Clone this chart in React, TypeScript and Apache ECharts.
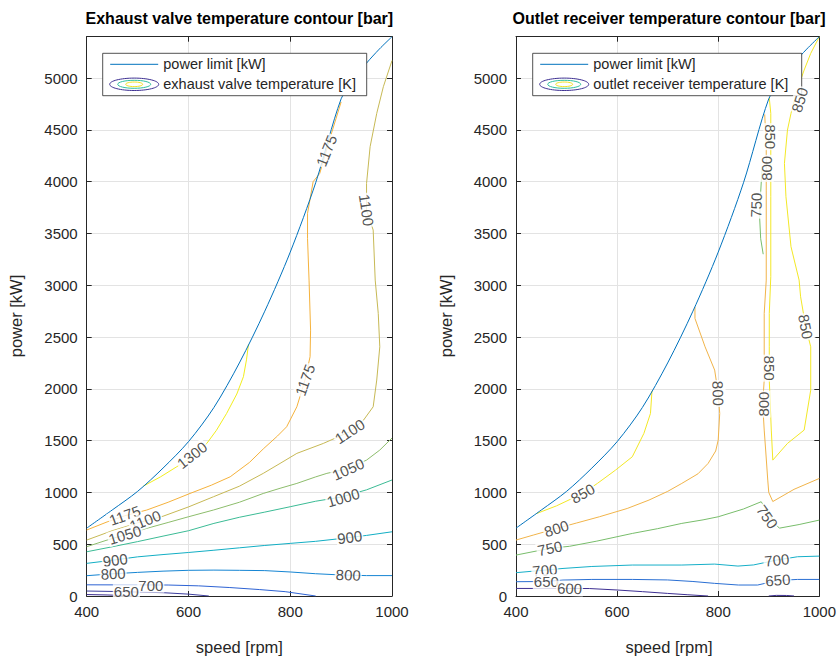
import React, { useEffect, useRef } from 'react';
import * as echarts from 'echarts';

const FONT = "'Liberation Sans', Arial, Helvetica, sans-serif";
const INK = '#262626';

// shared axes
const speedRange = [400, 1000];
const speedStep = 200;
const powerRange = [0, 5400];
const powerStep = 500;

// power limit curve [speed rpm, power kW]
const powerLimit = [[400, 655], [450, 830], [500, 1010], [550, 1235], [600, 1490], [650, 1820], [700, 2250], [750, 2750], [800, 3320], [850, 3990], [900, 4800], [925, 4985], [950, 5145], [975, 5280], [1000, 5400]];

// ---------- Exhaust valve temperature contours ----------
const ev600 = [[400, 14], [440, 10], [475, 4], [492, 0]];
const ev650 = [[400, 48], [450, 44], [500, 38], [550, 32], [600, 18], [640, 0]];
const ev700 = [[400, 108], [500, 107], [560, 106], [620, 98], [680, 82], [740, 62], [790, 42], [850, 0]];
const ev800 = [[400, 196], [450, 214], [500, 228], [550, 240], [600, 248], [650, 250], [700, 248], [750, 245], [800, 232], [850, 215], [900, 203], [950, 197], [1000, 197]];
const ev900 = [[400, 315], [450, 345], [500, 378], [550, 400], [600, 420], [650, 442], [700, 465], [750, 488], [800, 508], [850, 528], [900, 555], [950, 585], [1000, 620]];
const ev1000 = [[400, 427], [450, 475], [500, 525], [550, 578], [600, 630], [650, 701], [700, 760], [750, 810], [800, 862], [850, 915], [900, 955], [950, 1025], [1000, 1120]];
const ev1050 = [[400, 476], [440, 540], [475, 590], [518, 653], [560, 710], [600, 765], [649, 830], [700, 905], [747, 990], [780, 1040], [813, 1087], [850, 1150], [872, 1184], [914, 1230], [950, 1312], [976, 1409], [1000, 1525]];
const ev1100 = [[400, 540], [450, 630], [500, 705], [550, 770], [600, 860], [649, 958], [700, 1060], [747, 1184], [780, 1280], [813, 1377], [865, 1473], [917, 1586], [944, 1698], [963, 1827], [970, 2085], [976, 2406], [973, 2728], [967, 3050], [963, 3533], [950, 3726], [950, 3984], [957, 4338], [970, 4660], [983, 4917], [1000, 5170]];
const ev1175 = [[400, 637], [440, 715], [475, 775], [518, 830], [560, 905], [603, 990], [645, 1070], [682, 1151], [720, 1290], [747, 1420], [775, 1545], [793, 1634], [813, 1827], [829, 2085], [839, 2310], [840, 2567], [837, 3050], [834, 3450], [834, 3694], [845, 4000], [858, 4080], [880, 4450], [900, 4770]];
const ev1300 = [[511, 1060], [545, 1150], [577, 1248], [610, 1350], [636, 1473], [655, 1600], [675, 1763], [695, 1950], [708, 2117], [714, 2280], [718, 2430]];
// [speed, power, text, angle]
const evLabels = [
  [607, 1360, '1300', 38], [871, 4300, '1175', 68], [829, 2085, '1175', 70], [475, 778, '1175', 20],
  [950, 3726, '1100', -82], [917, 1590, '1100', 33], [515, 728, '1100', 22],
  [914, 1225, '1050', 24], [475, 590, '1050', 17], [904, 950, '1000', 16],
  [917, 568, '900', 7], [456, 347, '900', 7], [914, 203, '800', -2], [452, 216, '800', 3],
  [526, 104, '700', 0], [478, 42, '650', 0],
];

// ---------- Outlet receiver temperature contours ----------
const or600 = [[400, 73], [506, 73], [545, 72], [600, 58], [650, 42], [700, 25], [740, 12], [780, 0]];
const or600b = [[900, 0], [915, 6], [935, 5], [950, 0]];
const or650 = [[400, 138], [460, 140], [493, 154], [550, 160], [630, 160], [700, 155], [750, 140], [793, 122], [840, 106], [878, 106], [918, 150], [957, 160], [1000, 160]];
const or700 = [[400, 225], [457, 250], [493, 266], [550, 285], [630, 299], [728, 299], [793, 308], [839, 289], [870, 300], [916, 347], [957, 379], [1000, 385]];
const or750 = [[400, 395], [467, 460], [506, 480], [560, 530], [630, 604], [680, 650], [728, 701], [770, 735], [800, 765], [850, 840], [885, 910], [900, 800], [912, 700], [921, 655], [960, 690], [1000, 733]];
const or750b = [[887, 4150], [884, 3900], [882, 3650], [884, 3450], [889, 3300]];
const or800a = [[400, 540], [434, 588], [480, 652], [520, 705], [565, 765], [620, 845], [663, 926], [700, 1010], [728, 1087], [760, 1180], [780, 1280], [795, 1400], [800, 1505], [803, 1763], [800, 1956], [793, 2181], [774, 2406], [754, 2680], [754, 2790]];
const or800b = [[1000, 1135], [950, 1030], [908, 912], [900, 1000], [898, 1119], [894, 1400], [891, 1602], [888, 1859], [891, 2085], [891, 2728], [895, 3050], [895, 3919], [895, 4338], [892, 4650]];
const or850a = [[440, 795], [480, 870], [532, 990], [561, 1087], [597, 1216], [630, 1344], [653, 1570], [666, 1763], [669, 1980]];
const or850b = [[901, 4810], [904, 4660], [904, 4177], [904, 3855], [904, 3083], [901, 2728], [901, 2406], [901, 2085], [905, 1602], [908, 1312], [937, 1473], [970, 1602], [983, 1988], [983, 2406], [973, 2600], [963, 2889], [960, 3050], [944, 3372], [934, 3855], [931, 4177], [937, 4499], [944, 4660], [954, 4853], [970, 5078], [983, 5239], [1000, 5400]];
const orLabels = [
  [532, 990, '850', 29], [973, 2600, '850', -79], [961, 4790, '850', 73], [902, 2200, '850', -90], [904, 4435, '850', -90],
  [800, 1956, '800', -88], [889, 1853, '800', 90], [895, 4129, '800', 90], [480, 652, '800', 18],
  [875, 3774, '750', 88], [897, 765, '750', -55], [467, 460, '750', 12],
  [457, 250, '700', 5], [916, 347, '700', 6], [460, 140, '650', 0], [918, 154, '650', 4], [506, 73, '600', -2],
];

const LIMIT_COLOR = '#0072BD';

const evLines: [number[][], string][] = [
  [ev600, '#3a2b8e'], [ev650, '#3c3d9e'], [ev700, '#2d62d3'], [ev800, '#1585d3'], [ev900, '#12aec4'],
  [ev1000, '#3bbb95'], [ev1050, '#8dbd6c'], [ev1100, '#c7b955'], [ev1175, '#f5b23c'], [ev1300, '#f2ee1e'],
];
const orLines: [number[][], string][] = [
  [or600, '#3d2f92'], [or600b, '#3d2f92'], [or650, '#2a6fd3'], [or700, '#16afc8'], [or750, '#78bd6b'],
  [or750b, '#78bd6b'], [or800a, '#f1b44a'], [or800b, '#f1b44a'], [or850a, '#f3e826'], [or850b, '#f3e826'],
];

const GL = { left: 86.7, top: 36.7, width: 305.3, height: 559.3 };
const GR = { left: 516, top: 36.7, width: 306, height: 559.3 };

const plain = (v: number) => String(v);

function xAx(gi: number, top: boolean) {
  return {
    type: 'value', gridIndex: gi, min: speedRange[0], max: speedRange[1], interval: speedStep,
    position: top ? 'top' : 'bottom',
    axisLine: { show: true, onZero: false, lineStyle: { color: INK, width: 1 } },
    axisTick: { show: true, inside: true, length: 5, lineStyle: { color: INK } },
    axisLabel: { show: !top, color: INK, fontSize: 15, fontFamily: FONT, margin: 8, formatter: plain },
    splitLine: { show: !top, lineStyle: { color: '#e3e3e3', width: 1 } },
  };
}
function yAx(gi: number, right: boolean) {
  return {
    type: 'value', gridIndex: gi, min: powerRange[0], max: powerRange[1], interval: powerStep,
    position: right ? 'right' : 'left',
    axisLine: { show: true, onZero: false, lineStyle: { color: INK, width: 1 } },
    axisTick: { show: true, inside: true, length: 5, lineStyle: { color: INK } },
    axisLabel: { show: !right, color: INK, fontSize: 15, fontFamily: FONT, margin: 9, showMaxLabel: false, formatter: plain },
    splitLine: { show: !right, lineStyle: { color: '#e3e3e3', width: 1 } },
  };
}

function lineSeries(data: number[][], color: string, xi: number, yi: number, smooth: number | boolean = false) {
  return {
    type: 'line', data, xAxisIndex: xi, yAxisIndex: yi, showSymbol: false, symbol: 'none',
    smooth, lineStyle: { color, width: 1 }, silent: true, z: 2, clip: true,
  };
}
function labelSeries(labels: any[], xi: number, yi: number, z: number) {
  return {
    type: 'scatter', xAxisIndex: xi, yAxisIndex: yi, silent: true, z, zlevel: 0, symbolSize: 1,
    itemStyle: { color: 'rgba(0,0,0,0)' },
    data: labels.map(([x, y, t, r]) => ({ value: [x, y], name: t, label: { rotate: r } })),
    label: {
      show: true, position: 'inside', formatter: '{b}', fontSize: 15, fontFamily: FONT,
      color: INK, backgroundColor: '#ffffff', padding: [0, 1],
    },
  };
}

function legend(x0: number, w: number, text: string) {
  const y0 = 53.3, h = 42.4;
  const cx = x0 + 31.5, cy = 84.3;
  return [
    { type: 'rect', shape: { x: x0, y: y0, width: w, height: h }, style: { fill: '#fff', stroke: INK, lineWidth: 0.8 }, z: 20 },
    { type: 'line', shape: { x1: x0 + 7.5, y1: 64.3, x2: x0 + 55.5, y2: 64.3 }, style: { stroke: LIMIT_COLOR, lineWidth: 1 }, z: 21 },
    { type: 'text', x: x0 + 60.6, y: 64.3, style: { text: 'power limit [kW]', fill: INK, fontSize: 14.5, fontFamily: FONT, verticalAlign: 'middle', align: 'left' }, z: 21 },
    { type: 'ellipse', shape: { cx, cy, rx: 24.5, ry: 6.2 }, style: { fill: 'none', stroke: '#3d2f92', lineWidth: 1 }, z: 21 },
    { type: 'ellipse', shape: { cx, cy, rx: 16.5, ry: 4 }, style: { fill: 'none', stroke: '#2fbf9f', lineWidth: 1 }, z: 21 },
    { type: 'ellipse', shape: { cx, cy, rx: 8.5, ry: 2.3 }, style: { fill: 'none', stroke: '#f2e21e', lineWidth: 1 }, z: 21 },
    { type: 'text', x: x0 + 60.6, y: cy, style: { text, fill: INK, fontSize: 14.5, fontFamily: FONT, verticalAlign: 'middle', align: 'left' }, z: 21 },
  ];
}

function txt(x: number, y: number, text: string, size: number, bold = false, rot = 0) {
  return {
    type: 'text', x, y, rotation: rot, z: 22,
    style: { text, fill: bold ? '#000' : INK, fontSize: size, fontWeight: bold ? 'bold' : 'normal', fontFamily: FONT, align: 'center', verticalAlign: 'middle' },
  };
}

export default function App() {
  const ref = useRef<HTMLDivElement>(null);
  useEffect(() => {
    if (!ref.current) return;
    const chart = echarts.init(ref.current, undefined, { renderer: 'svg' });
    const series: any[] = [];
    evLines.forEach(([d, c]) => series.push(lineSeries(d, c, 0, 0)));
    series.push(lineSeries(powerLimit, LIMIT_COLOR, 0, 0, 0.3));
    series.push(labelSeries(evLabels, 0, 0, 5));
    orLines.forEach(([d, c]) => series.push(lineSeries(d, c, 2, 2)));
    series.push(lineSeries(powerLimit, LIMIT_COLOR, 2, 2, 0.3));
    series.push(labelSeries(orLabels, 2, 2, 30));

    chart.setOption({
      animation: false,
      grid: [GL, GR],
      xAxis: [xAx(0, false), xAx(0, true), xAx(1, false), xAx(1, true)],
      yAxis: [yAx(0, false), yAx(0, true), yAx(1, false), yAx(1, true)],
      series,
      graphic: [
        txt(GL.left + GL.width / 2, 18, 'Exhaust valve temperature contour [bar]', 16, true),
        txt(GR.left + GR.width / 2, 18, 'Outlet receiver temperature contour [bar]', 16, true),
        txt(GL.left + GL.width / 2, 647, 'speed [rpm]', 16.5),
        txt(GR.left + GR.width / 2, 647, 'speed [rpm]', 16.5),
        txt(16, 316, 'power [kW]', 16.5, false, Math.PI / 2),
        txt(446, 316, 'power [kW]', 16.5, false, Math.PI / 2),
        ...legend(102.7, 264, 'exhaust valve temperature [K]'),
        ...legend(532.7, 269, 'outlet receiver temperature [K]'),
      ],
    });
    return () => chart.dispose();
  }, []);
  return <div ref={ref} style={{ position: 'absolute', left: 0, top: 0, width: 839, height: 661 }} />;
}
